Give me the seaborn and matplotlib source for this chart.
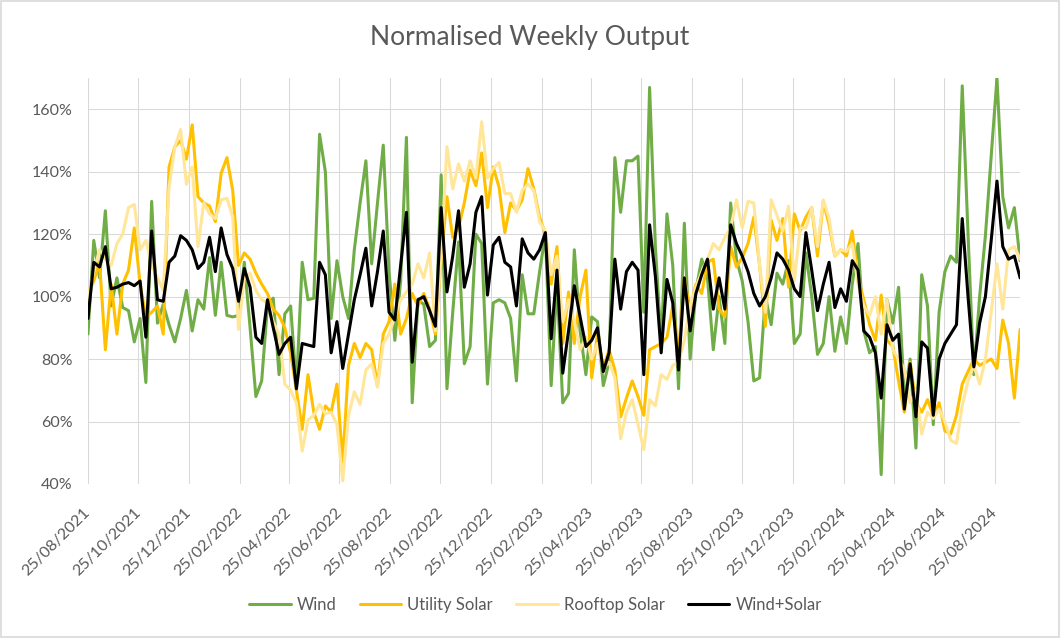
import pandas as pd
import matplotlib
matplotlib.use("Agg")
import matplotlib.pyplot as plt
import matplotlib.ticker as mtick
import seaborn as sns

# weekly values in %, first week 25/08/2021
start_date = "2021-08-25"

wind = [
    88, 118, 106, 127.5, 97, 106, 96.5, 95.5, 85.5, 93, 72.5, 130.5, 91.5, 97.5, 91, 85.5,
    93, 102, 89, 99, 96, 112.5, 94, 111, 94, 93.5, 94, 111, 90, 68, 73,
    97, 99.5, 75, 94.5, 97, 71, 111, 99, 99.5, 152, 140, 93, 111.5, 100,
    93, 115, 130, 143.5, 110.5, 130, 148.5, 108, 86, 105, 151, 66, 99, 97.5, 84,
    86, 139, 70.5, 95, 117.5, 78.5, 84, 120, 117, 72, 98, 99, 98, 93, 73,
    107, 94.5, 94.5, 108, 120, 71.5, 104, 66, 69, 115, 89, 75, 93.5, 92, 71.5,
    79, 144.5, 127, 143.5, 143.5, 145, 95, 167, 116, 85, 126.5, 110, 70.5, 123.5, 80,
    102, 112, 106, 83, 100, 85, 130, 112, 105, 92, 73, 74, 100, 91, 107.5,
    104, 111.5, 85, 88, 114, 100, 81.5, 85, 100, 82.5, 93.5, 85, 104, 117, 89,
    82, 84, 43, 99, 91.5, 103, 68.5, 80, 51.5, 107, 97, 59, 95, 108, 113,
    111, 167.5, 120, 75, 100, 119.5, 145, 170, 132, 122, 128.5, 111.5,
]

utility_solar = [
    101, 105, 111, 83, 104, 88, 104, 108.5, 122, 104, 93.5, 95, 97, 88, 141.5, 148,
    150, 144, 155, 132, 130, 129, 124, 139.5, 144.5, 134, 110, 114, 112, 107.5, 104,
    101, 96, 94, 90, 82, 70, 57.5, 75, 63, 57.5, 65, 63, 72, 47,
    78, 85, 80.5, 85, 83, 71.5, 88, 92, 104, 88, 93, 101, 97, 101, 96,
    88, 112, 132, 119, 122, 130, 140.5, 135.5, 146, 128.5, 141.5, 135, 120.5, 130, 127.5,
    131, 141, 134.5, 125.5, 120, 104, 116, 85, 101.5, 85, 100, 108.5, 74, 88, 77,
    83, 76.5, 61.5, 67.5, 73, 68, 62, 83, 84, 85, 87, 97, 82, 106, 96,
    104, 101, 111, 112, 96, 93.5, 116, 109.5, 112.5, 117, 125.5, 110, 90.5, 124.5, 118,
    125, 103, 126.5, 121, 125.5, 128.5, 113, 130.5, 123, 113, 115, 113, 121, 106, 99,
    91, 86, 100.5, 86, 84, 73, 63, 79, 66, 63, 67, 62, 66, 57, 56,
    62, 72, 76, 80, 78, 79, 80, 77, 92.5, 85, 67.5, 89.5,
]

rooftop_solar = [
    100, 108, 115, 112, 110, 117, 120, 128.5, 129.5, 115, 118, 110, 106, 102, 135, 148,
    153.5, 136, 141.5, 116, 130, 126.5, 125, 131, 131.5, 125.5, 89.5, 106, 107.5, 102, 99,
    98, 92, 88, 72, 70, 66, 50.5, 60.5, 62, 65.5, 62.5, 63, 59, 41,
    62, 69.5, 65.5, 76.5, 78.5, 71, 85, 88, 93.5, 99, 101.5, 104, 110.5, 106, 114,
    89, 113, 148, 134.5, 142.5, 137, 143.5, 138, 156, 138, 141, 143, 133, 133, 127,
    134, 136, 134, 124, 121, 107, 113, 92, 99, 92, 83, 87, 80, 85, 77,
    79, 74, 54.5, 63, 67, 59, 51, 67, 65, 75, 73.5, 78, 79, 86, 97,
    103, 108, 112, 117, 115, 119, 122, 131, 122, 130.5, 130, 110, 95, 131, 126,
    121, 129, 105, 122, 122, 128.5, 116, 131, 125, 113, 115, 114.5, 117, 104, 97,
    94, 100, 88, 99, 83, 80, 77, 66, 70, 56, 63, 61, 64, 60, 54,
    53, 65, 73, 78, 72, 80, 95, 110.5, 96, 115, 116, 112,
]

wind_solar = [
    93, 111, 109.5, 116, 102.5, 103, 104, 104.5, 103.5, 105, 87, 121, 99, 98.5, 111, 113,
    119.5, 118, 115, 109, 111, 119, 108, 122, 113.5, 109, 98.5, 109, 103, 87, 85,
    99, 90, 81.5, 85, 87, 70.5, 85, 84.5, 84, 111, 107, 82, 92, 77,
    88, 99, 107, 115.5, 97, 108, 121, 95, 92.5, 110, 127, 79, 99, 100, 95.5,
    90.5, 128.5, 101.5, 113, 127.5, 103, 110.5, 127, 132, 100.5, 116.5, 119, 111, 109.5, 97,
    118.5, 114, 112, 115, 120.5, 86.5, 108.5, 75.5, 89, 103.5, 93.5, 84, 86, 90, 76,
    82, 112, 96, 108, 111, 108.5, 75, 123, 106.5, 82, 105.5, 98, 76.5, 106, 89,
    101, 107, 112, 96, 106, 96, 123, 117, 113, 108, 101, 97, 100, 106, 114,
    112, 108.5, 102.5, 100, 120.5, 108.5, 95.5, 104, 111, 96.5, 102.5, 98.5, 111.5, 108.5, 89,
    87, 82, 67.5, 91, 86, 88, 64, 78.5, 61.5, 85.5, 83.5, 62, 80, 85, 88,
    91, 125, 100, 77.5, 91.5, 100, 118, 137, 116, 112, 113, 106,
]

series_names = ["Wind", "Utility Solar", "Rooftop Solar", "Wind+Solar"]
colors = ["#70AD47", "#FFC000", "#FFE699", "#000000"]

weeks = pd.date_range(start_date, periods=len(wind), freq="7D")
df = pd.DataFrame({
    "Week": weeks,
    "Wind": wind,
    "Utility Solar": utility_solar,
    "Rooftop Solar": rooftop_solar,
    "Wind+Solar": wind_solar,
})
long_df = df.melt(id_vars="Week", var_name="Series", value_name="Output")

sns.set_theme(style="white")
plt.rcParams["font.family"] = ["Lato", "DejaVu Sans"]

fig = plt.figure(figsize=(10.6, 6.38), dpi=100)
ax = fig.add_axes([0.083, 0.2414, 0.8794, 0.6363])

sns.lineplot(data=long_df, x="Week", y="Output", hue="Series",
             hue_order=series_names, palette=colors, linewidth=2.2,
             errorbar=None, ax=ax)

ax.set_ylim(40, 170)
ax.set_yticks(range(40, 161, 20))
ax.yaxis.set_major_formatter(mtick.PercentFormatter(decimals=0))

ticks = pd.date_range(start_date, "2024-08-25", freq=pd.DateOffset(months=2))
ax.set_xticks(ticks)
ax.set_xticklabels([t.strftime("%d/%m/%Y") for t in ticks], rotation=45,
                   ha="right", va="center", rotation_mode="anchor")
ax.set_xlim(weeks[0], weeks[-1])

ax.grid(True, color="#D9D9D9", linewidth=0.75)
ax.set_axisbelow(True)
for s in ax.spines.values():
    s.set_visible(False)
ax.tick_params(axis="both", length=0, colors="#595959", labelsize=11.5)
ax.tick_params(axis="y", pad=11)
ax.tick_params(axis="x", pad=19)
ax.set_xlabel("")
ax.set_ylabel("")

handles, labels = ax.get_legend_handles_labels()
ax.get_legend().remove()
leg = fig.legend(handles, labels, loc="center", bbox_to_anchor=(0.505, 0.052),
                 ncol=4, frameon=False, fontsize=12, handlelength=2.5,
                 handletextpad=0.35, columnspacing=1.4, labelcolor="#595959")
for h in leg.legend_handles:
    h.set_linewidth(2.2)

fig.text(0.5, 0.941, "Normalised Weekly Output", ha="center", va="center",
         fontsize=19, color="#595959")

fig.add_artist(plt.Rectangle((0.001, 0.0015), 0.998, 0.997, transform=fig.transFigure,
                             fill=False, edgecolor="#D9D9D9", linewidth=1.2))

fig.savefig("out.png", dpi=100)
